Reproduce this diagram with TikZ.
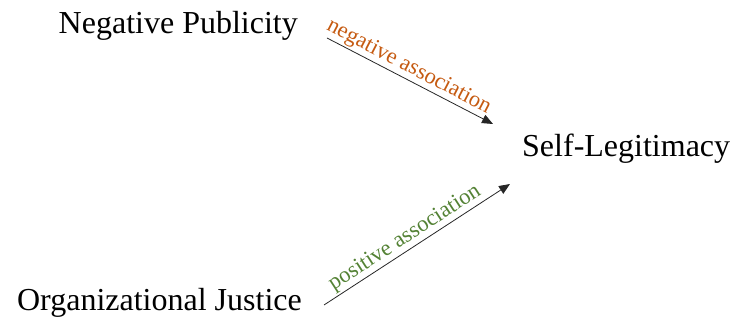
\documentclass[tikz,border=0pt]{standalone}
\usepackage{fontspec}
\setmainfont{Liberation Serif}
\usetikzlibrary{arrows.meta}
\definecolor{negcol}{HTML}{C55A11}
\definecolor{poscol}{HTML}{548235}
\tikzset{
  concept/.style={font=\fontsize{32}{38}\selectfont, inner sep=0pt},
  link/.style={draw=black!85, line width=0.8pt, -{Triangle[length=11pt,width=9pt]}},
  linklabel/.style={font=\fontsize{22.5}{27}\selectfont, sloped, above, inner sep=1.5pt}
}
\begin{document}
\begin{tikzpicture}[x=1pt,y=1pt]
  \useasboundingbox (0,0) rectangle (734,328);
  \node[concept, anchor=base east] (np) at (298,294) {Negative Publicity};
  \node[concept, anchor=base east] (oj) at (302,17) {Organizational Justice};
  \node[concept, anchor=base west] (sl) at (522,171) {Self-Legitimacy};
  \coordinate (np-out) at (327,290);
  \coordinate (oj-out) at (324,23);
  \coordinate (sl-in1) at (493,204);
  \coordinate (sl-in2) at (510,144);
  \draw[link] (np-out) -- node[linklabel, pos=0.46, text=negcol] {negative association} (sl-in1);
  \draw[link] (oj-out) -- node[linklabel, pos=0.47, text=poscol] {positive association} (sl-in2);
\end{tikzpicture}
\end{document}
